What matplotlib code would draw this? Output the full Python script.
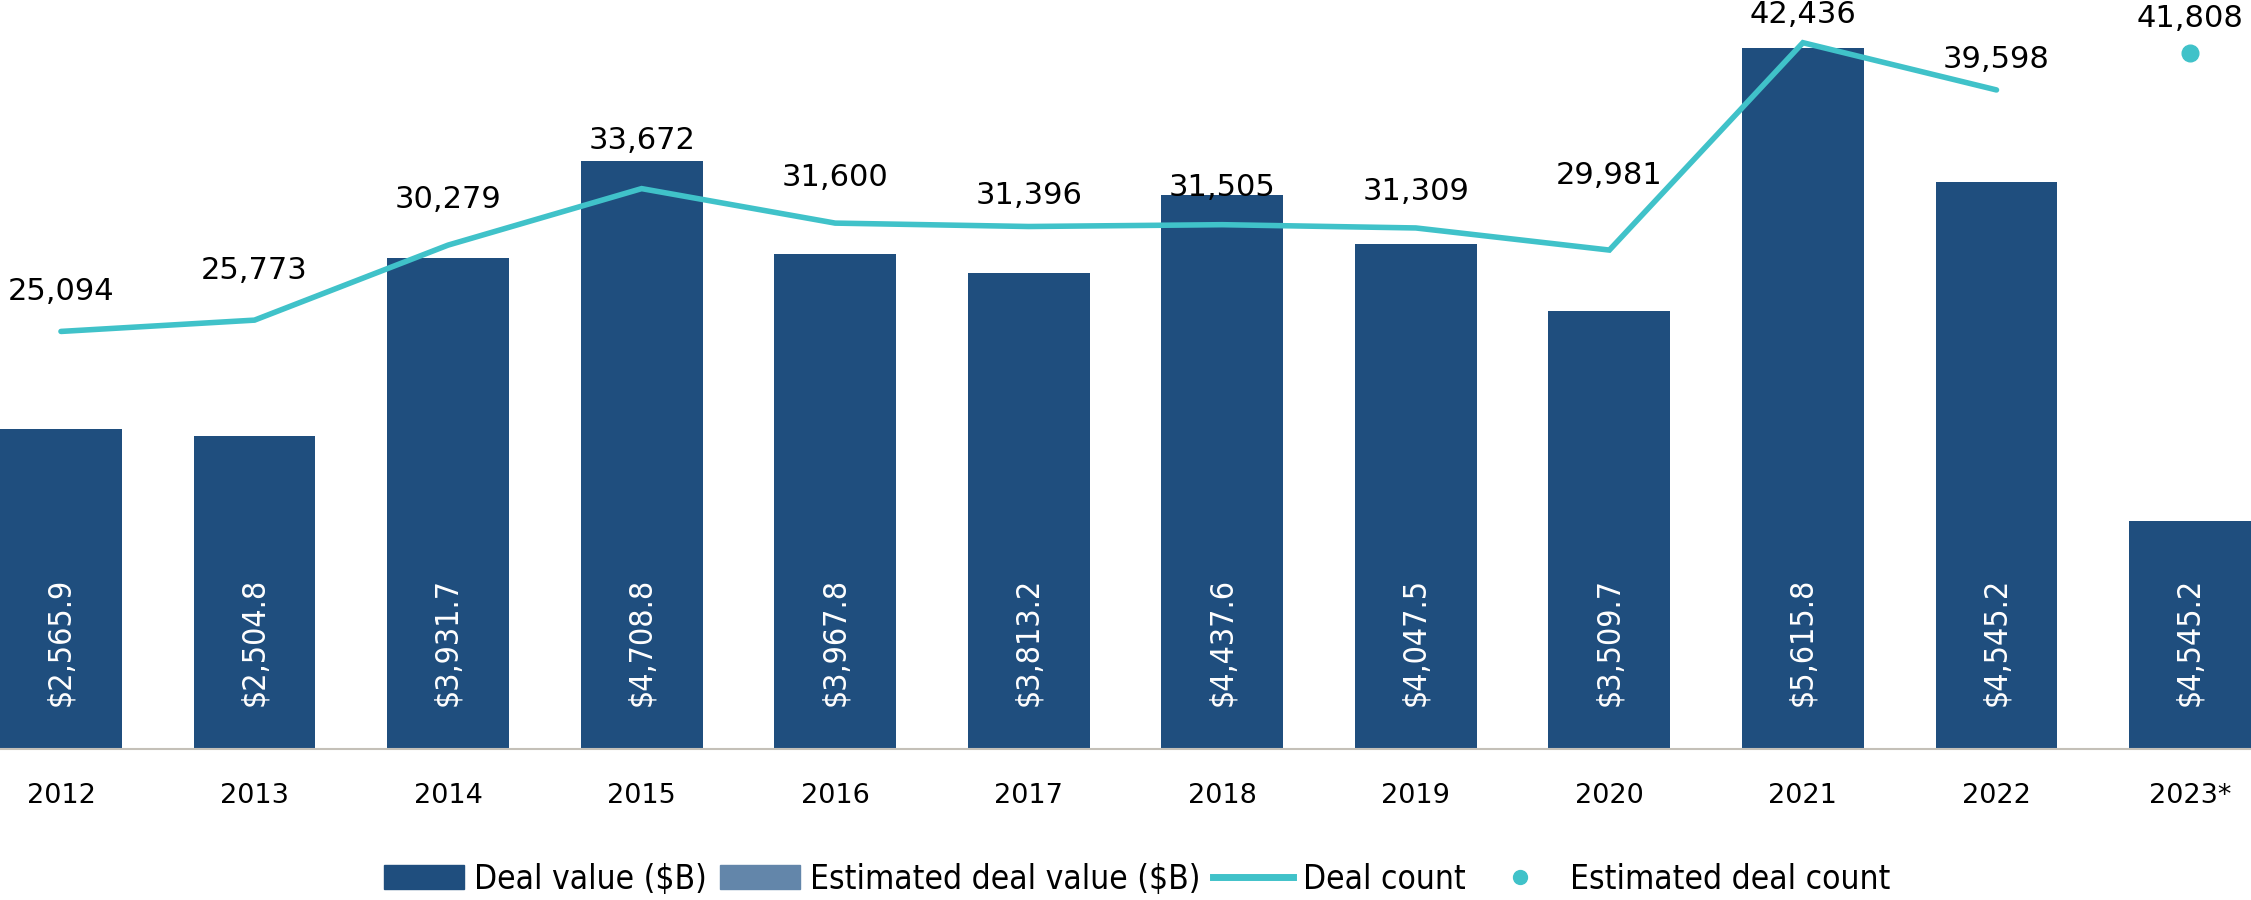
import numpy as np
import matplotlib
matplotlib.use("Agg")
import matplotlib.pyplot as plt
from matplotlib.patches import Patch
from matplotlib.lines import Line2D
from matplotlib.font_manager import FontProperties

years = ["2012", "2013", "2014", "2015", "2016", "2017", "2018", "2019", "2020", "2021", "2022", "2023*"]
deal_value = [2565.9, 2504.8, 3931.7, 4708.8, 3967.8, 3813.2, 4437.6, 4047.5, 3509.7, 5615.8, 4545.2, 1830.0]
value_labels = ["$2,565.9", "$2,504.8", "$3,931.7", "$4,708.8", "$3,967.8", "$3,813.2",
                "$4,437.6", "$4,047.5", "$3,509.7", "$5,615.8", "$4,545.2", "$4,545.2"]
deal_count = [25094, 25773, 30279, 33672, 31600, 31396, 31505, 31309, 29981, 42436, 39598]
est_count = 41808

navy = "#1f4e7e"
light = "#6386aa"
teal = "#40c2c9"

fig = plt.figure(figsize=(22.51, 9), dpi=100)
ax = fig.add_axes([0, 0.1675, 1, 0.8325])
x = np.arange(len(years))

ax.bar(x, deal_value, width=0.63, color=navy)
ax.set_xlim(-0.315, len(years) - 1 + 0.315)
ax.set_ylim(0, 6000)
cond = FontProperties(family="DejaVu Sans", stretch="condensed", size=23)
for i, lab in enumerate(value_labels):
    ax.annotate(lab, (x[i], 0), xytext=(0, 31), textcoords="offset points",
                rotation=90, ha="center", va="bottom", color="white",
                fontproperties=cond)

for s in ["top", "left", "right"]:
    ax.spines[s].set_visible(False)
ax.spines["bottom"].set_color("#c4c0b8")
ax.spines["bottom"].set_linewidth(1.5)
ax.set_yticks([])
ax.set_xticks(x)
ax.set_xticklabels(years, fontsize=19.5)
ax.tick_params(axis="x", length=0, pad=24)

ax2 = ax.twinx()
ax2.set_ylim(0, 45000)
ax2.axis("off")
ax2.plot(x[:len(deal_count)], deal_count, color=teal, lw=4, solid_capstyle="round",
         solid_joinstyle="miter")
ax2.plot(x[-1], est_count, "o", color=teal, markersize=12)

# label offsets (points) above each point, as placed in the original
label_dy = [29, 36, 33, 35, 33, 22, 27, 26, 54, 20, 22, 25]
counts_all = deal_count + [est_count]
for i, c in enumerate(counts_all):
    ax2.annotate(f"{c:,}", (x[i], c), xytext=(0, label_dy[i]), textcoords="offset points",
                 ha="center", va="center", fontsize=22, color="black")

handles = [Patch(color=navy), Patch(color=light),
           Line2D([], [], color=teal, lw=5),
           Line2D([], [], color=teal, marker="o", ls="none", markersize=10)]
labels = ["Deal value ($B)", "Estimated deal value ($B)", "Deal count", "Estimated deal count"]
leg_font = FontProperties(family="DejaVu Sans", stretch="condensed", size=24)
fig.legend(handles, labels, loc="center", bbox_to_anchor=(0.505, 0.023), ncol=4,
           frameon=False, prop=leg_font, handlelength=2.4,
           handletextpad=0.3, columnspacing=0.4)

fig.savefig("out.png", dpi=100)
